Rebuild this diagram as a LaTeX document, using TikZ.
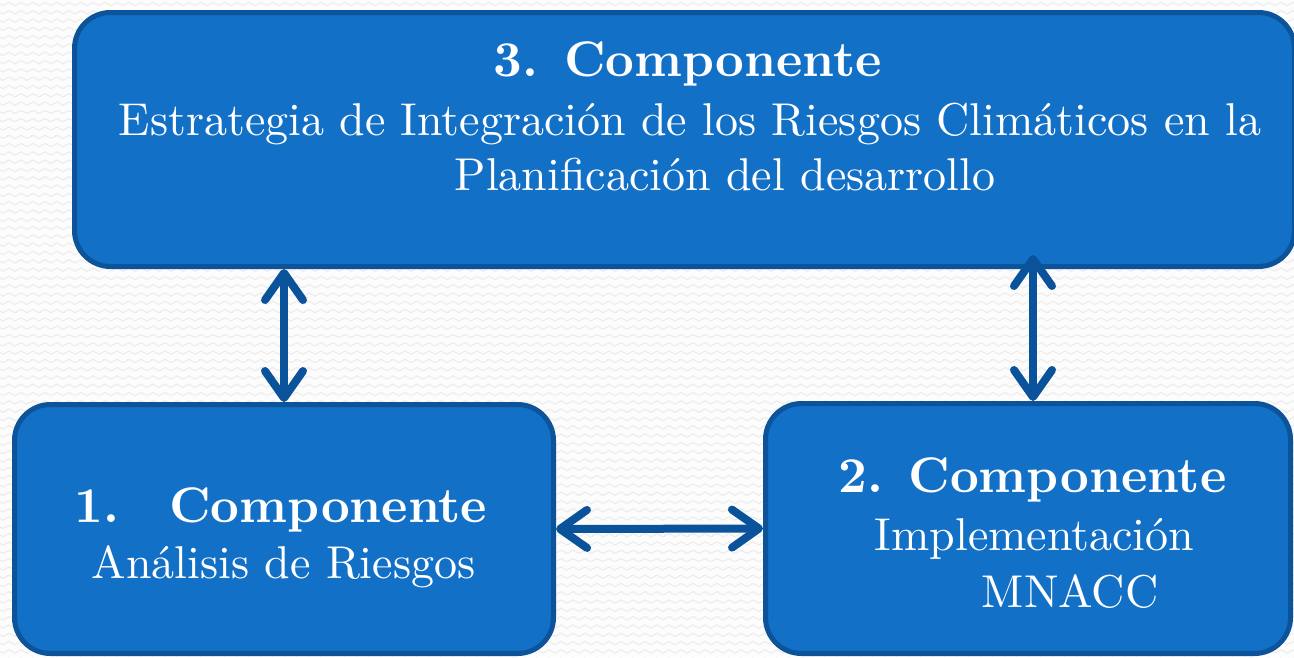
\documentclass[tikz,border=0pt]{standalone}
\usepackage{fontspec}
\setmainfont{lmroman10-regular.otf}[BoldFont=lmroman10-bold.otf]
\usetikzlibrary{arrows.meta,calc,decorations.pathmorphing}
\definecolor{boxblue}{RGB}{18,112,199}
\definecolor{edgeblue}{RGB}{12,83,153}
\definecolor{arrowblue}{RGB}{10,82,153}
\definecolor{bgzig}{RGB}{237,237,237}
\begin{document}
\begin{tikzpicture}[x=1pt,y=-1pt,
    comp/.style={draw=edgeblue, fill=boxblue, line width=5pt, rounded corners=36pt, inner sep=0pt},
    twoway/.style={draw=arrowblue, line width=8pt, {Straight Barb[length=27pt,width=38pt,round]}-{Straight Barb[length=27pt,width=38pt,round]}},
    head/.style={text=white, anchor=base, inner sep=0pt, font=\fontsize{50}{60}\selectfont\bfseries},
    body/.style={text=white, anchor=base, inner sep=0pt, font=\fontsize{46}{55}\selectfont},
    zig/.style={draw=bgzig, line width=1.2pt, decorate, decoration={zigzag, segment length=12pt, amplitude=1.6pt}}]
    \useasboundingbox (0,0) rectangle (1294,657);
    \fill[white!99!black] (0,0) rectangle (1294,657);
    \foreach \y in {4,12.3,...,660}
        \draw[zig] (-6,\y) -- (1300,\y);

    \node[comp, minimum width=1220pt, minimum height=254pt] (comp3) at (684.5,139.5) {};
    \node[comp, minimum width=539pt, minimum height=249pt] (comp1) at (284,529) {};
    \node[comp, minimum width=525pt, minimum height=250pt] (comp2) at (1028,528.5) {};

    \draw[twoway] (comp1.north) -- (comp1.north |- comp3.south);
    \draw[twoway] ($(comp2.north)+(5,0)$) -- ($(comp2.north |- comp3.south)+(5,-14)$);
    \draw[twoway] (comp1.east) -- (comp2.west);

    \node[head] (h3) at (688,76) {3. Componente};
    \node[body] (t3a) at (690,135) {Estrategia de Integración de los Riesgos Climáticos en la};
    \node[body] (t3b) at (725,190) {Planificación del desarrollo};

    \node[head] (h1) at (281,522) {1.\quad Componente};
    \node[body] (t1) at (283.5,578) {Análisis de Riesgos};

    \node[head] (h2) at (1032.5,492) {2. Componente};
    \node[body] (t2a) at (1034.5,550) {Implementación};
    \node[body] (t2b) at (1070,607) {MNACC};
\end{tikzpicture}
\end{document}
